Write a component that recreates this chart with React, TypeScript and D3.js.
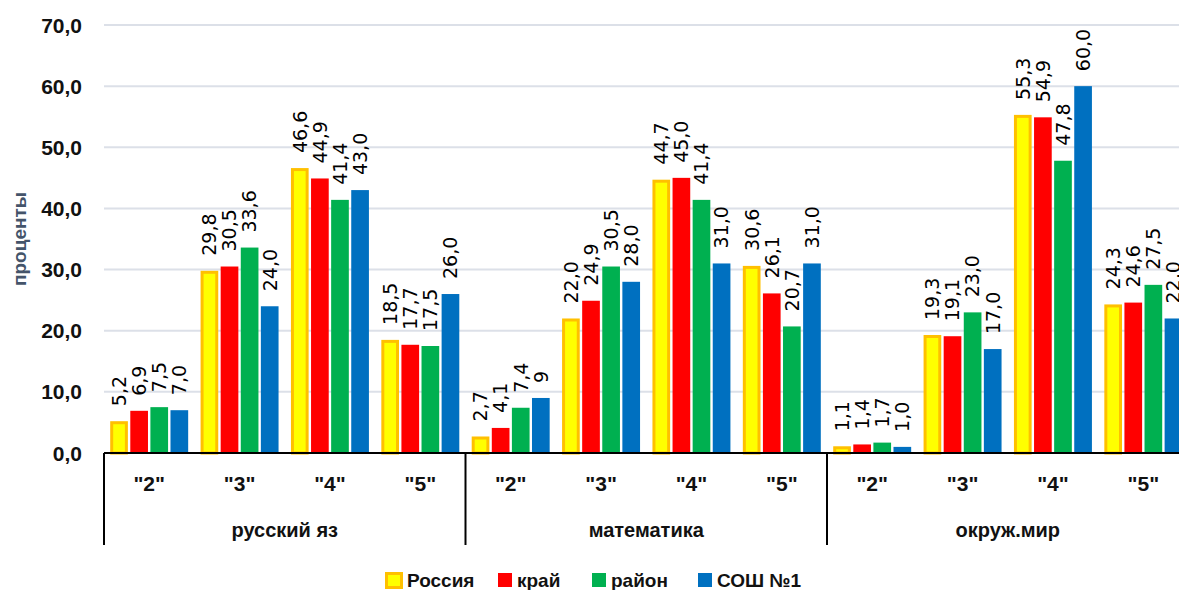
import React from "react";
import * as d3 from "d3";

const subjects = ["русский яз", "математика", "окруж.мир"];
const grades = ['"2"', '"3"', '"4"', '"5"'];
const seriesNames = ["Россия", "край", "район", "СОШ №1"];
const seriesFill = ["#FFFF00", "#FF0000", "#00B050", "#0070C0"];
const seriesStroke = ["#FFC000", "none", "none", "none"];

// values[series][subject*4 + grade]
const russia = [5.2, 29.8, 46.6, 18.5, 2.7, 22.0, 44.7, 30.6, 1.1, 19.3, 55.3, 24.3];
const krai = [6.9, 30.5, 44.9, 17.7, 4.1, 24.9, 45.0, 26.1, 1.4, 19.1, 54.9, 24.6];
const raion = [7.5, 33.6, 41.4, 17.5, 7.4, 30.5, 41.4, 20.7, 1.7, 23.0, 47.8, 27.5];
const school = [7.0, 24.0, 43.0, 26.0, 9, 28.0, 31.0, 31.0, 1.0, 17.0, 60.0, 22.0];
const seriesValues = [russia, krai, raion, school];
// label shown as in source ("9" without decimals)
const labelOverrides: Record<string, string> = { "3-4": "9" };

const yTicks = [0, 10, 20, 30, 40, 50, 60, 70];

const W = 1179;
const H = 590;

export default function App() {
  const plotLeft = 104;
  const plotRight = 1188.5;
  const y = d3.scaleLinear().domain([0, 70]).range([453, 25]);
  const cats = d3.range(subjects.length * grades.length);
  const xCat = d3.scaleBand<number>().domain(cats).range([plotLeft, plotRight]).padding(0);
  const cw = xCat.bandwidth();
  const xSub = d3.scaleBand<number>().domain(d3.range(4)).range([6.2, cw - 6.2]).paddingInner(0.12).paddingOuter(0);
  const groupW = cw * grades.length;
  const fmt = (v: number) => v.toFixed(1).replace(".", ",");

  return (
    <svg width={W} height={H} style={{ position: "absolute", left: 0, top: 0, background: "#fff" }}>
      {/* gridlines */}
      {yTicks.filter((t) => t > 0).map((t) => (
        <line key={t} x1={plotLeft} x2={W} y1={y(t)} y2={y(t)} stroke="#DCE0E8" strokeWidth={2} />
      ))}
      {/* y tick labels */}
      {yTicks.map((t) => (
        <text key={t} x={82} y={y(t)} dy="0.36em" textAnchor="end" fontFamily="Liberation Sans, Arial, sans-serif" fontWeight="bold" fontSize={21} fill="#111">
          {fmt(t)}
        </text>
      ))}
      {/* y title */}
      <text transform={`translate(26,239) rotate(-90)`} textAnchor="middle" fontFamily="Liberation Sans, Arial, sans-serif" fontWeight="bold" fontSize={19} fill="#44546A">
        проценты
      </text>
      {/* bars */}
      {seriesValues.map((vals, s) =>
        vals.map((v, c) => {
          const x0 = (xCat(c) as number) + (xSub(s) as number);
          const bw = xSub.bandwidth();
          const yt = y(v);
          const h = y(0) - yt;
          if (s === 0) {
            return (
              <rect key={`${s}-${c}`} x={x0 + 1.5} y={yt + 1.5} width={bw - 3} height={Math.max(0, h - 1.5)} fill={seriesFill[s]} stroke={seriesStroke[s]} strokeWidth={3} />
            );
          }
          return <rect key={`${s}-${c}`} x={x0} y={yt} width={bw} height={h} fill={seriesFill[s]} />;
        })
      )}
      {/* data labels */}
      {seriesValues.map((vals, s) =>
        vals.map((v, c) => {
          const cx = (xCat(c) as number) + (xSub(s) as number) + xSub.bandwidth() / 2;
          const key = `${s}-${c}`;
          const lbl = labelOverrides[`${s}-${c}`] ?? fmt(v);
          return (
            <text key={key} transform={`translate(${cx},${y(v) - 15}) rotate(-90)`} dy="0.36em" textAnchor="start" fontFamily="DejaVu Sans, sans-serif" fontSize={19} fill="#000">
              {lbl}
            </text>
          );
        })
      )}
      {/* x axis */}
      <line x1={plotLeft} x2={W} y1={y(0)} y2={y(0)} stroke="#000" strokeWidth={2} />
      {d3.range(subjects.length).map((g) => (
        <line key={g} x1={plotLeft + g * groupW} x2={plotLeft + g * groupW} y1={y(0)} y2={545} stroke="#000" strokeWidth={2} />
      ))}
      {cats.map((c) => (
        <text key={c} x={(xCat(c) as number) + cw / 2} y={483} dy="0.36em" textAnchor="middle" fontFamily="Liberation Sans, Arial, sans-serif" fontWeight="bold" fontSize={21} fill="#111">
          {grades[c % grades.length]}
        </text>
      ))}
      {subjects.map((s, g) => (
        <text key={s} x={plotLeft + g * groupW + groupW / 2} y={530} dy="0.36em" textAnchor="middle" fontFamily="Liberation Sans, Arial, sans-serif" fontWeight="bold" fontSize={20} fill="#111">
          {s}
        </text>
      ))}
      {/* legend */}
      {(() => {
        const starts = [385, 498, 592, 698];
        return seriesNames.map((n, i) => (
          <g key={n}>
            {i === 0 ? (
              <rect x={starts[i] + 1.5} y={573.5} width={15} height={14} fill={seriesFill[i]} stroke={seriesStroke[i]} strokeWidth={3} />
            ) : (
              <rect x={starts[i]} y={573} width={14} height={14} fill={seriesFill[i]} />
            )}
            <text x={starts[i] + (i === 0 ? 22 : 19)} y={580} dy="0.36em" fontFamily="Liberation Sans, Arial, sans-serif" fontWeight="bold" fontSize={19} fill="#111">
              {n}
            </text>
          </g>
        ));
      })()}
    </svg>
  );
}
